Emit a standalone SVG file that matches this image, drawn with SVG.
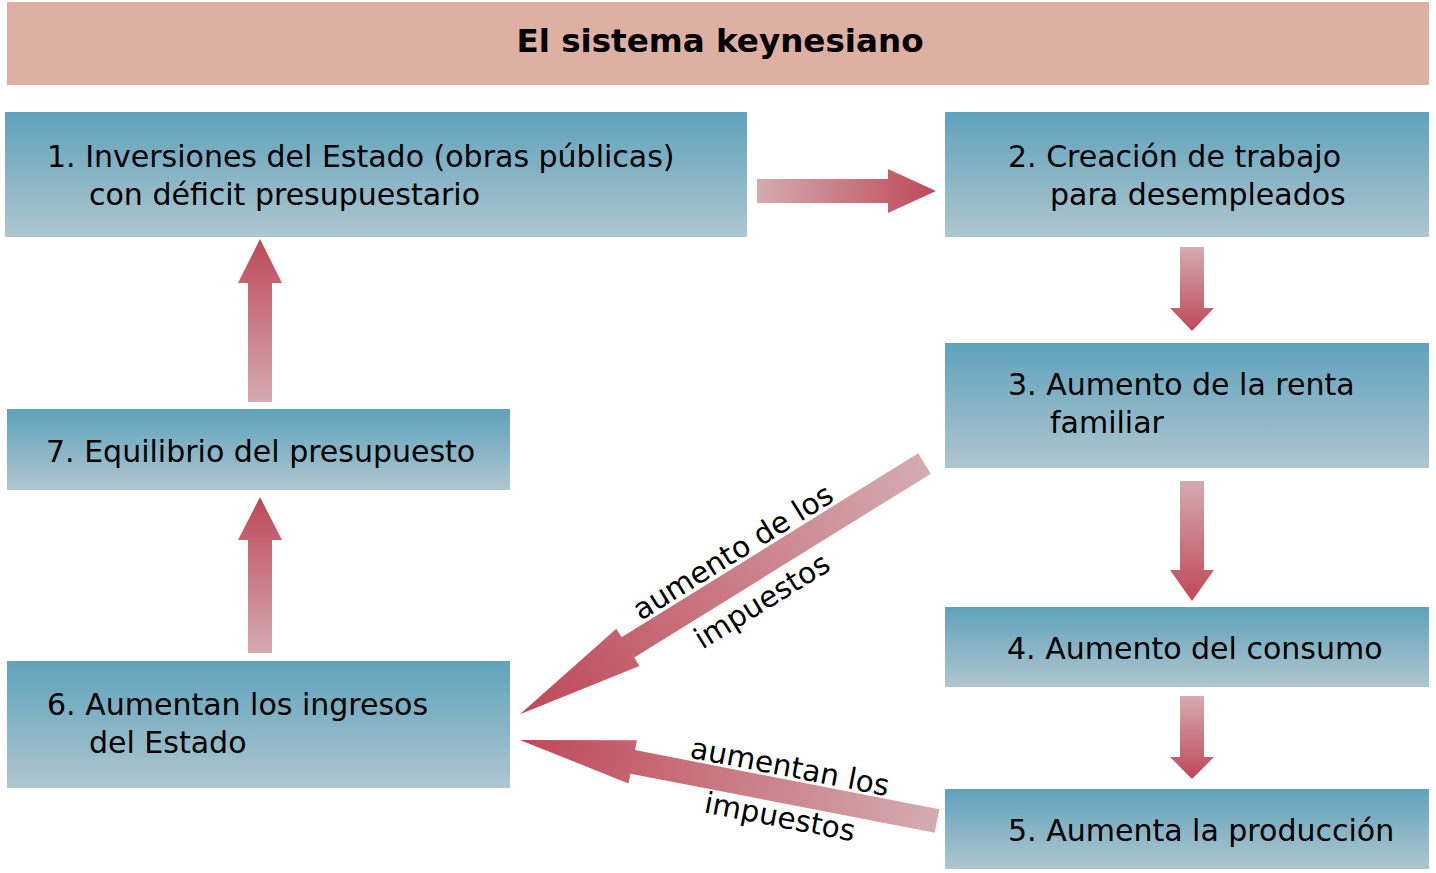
<svg xmlns="http://www.w3.org/2000/svg" width="1436" height="873" viewBox="0 0 1436 873">
<defs>
<linearGradient id="boxg" x1="0" y1="0" x2="0" y2="1">
<stop offset="0" stop-color="#5ea2bc"/>
<stop offset="1" stop-color="#afc6cf"/>
</linearGradient>
<linearGradient id="arrg" x1="0" y1="0" x2="1" y2="0">
<stop offset="0" stop-color="#d4abb0"/>
<stop offset="1" stop-color="#bf4858"/>
</linearGradient>
<style>
.box{fill:url(#boxg);}
.t{font-family:"DejaVu Sans","Liberation Sans",sans-serif;font-size:30px;fill:#000;}
.title{font-family:"DejaVu Sans","Liberation Sans",sans-serif;font-size:32.6px;font-weight:bold;fill:#000;}
.arr{fill:url(#arrg);}
.lbl{font-family:"DejaVu Sans","Liberation Sans",sans-serif;font-size:29.5px;fill:#000;text-anchor:middle;}
</style>
</defs>
<g id="title">
<rect x="7" y="2" width="1422" height="83" fill="#deafa3"/>
<text class="title" x="720" y="52" text-anchor="middle">El sistema keynesiano</text>
</g>
<g id="node1">
<rect class="box" x="5" y="112" width="742" height="125"/>
<text class="t" x="47" y="167">1. Inversiones del Estado (obras públicas)</text>
<text class="t" x="89" y="205">con déficit presupuestario</text>
</g>
<g id="node2">
<rect class="box" x="945" y="112" width="484" height="125"/>
<text class="t" x="1008" y="167">2. Creación de trabajo</text>
<text class="t" x="1050" y="205">para desempleados</text>
</g>
<g id="node3">
<rect class="box" x="945" y="343" width="484" height="125"/>
<text class="t" x="1008" y="395">3. Aumento de la renta</text>
<text class="t" x="1050" y="433">familiar</text>
</g>
<g id="node4">
<rect class="box" x="945" y="607" width="484" height="80"/>
<text class="t" x="1007" y="659">4. Aumento del consumo</text>
</g>
<g id="node5">
<rect class="box" x="945" y="789" width="484" height="80"/>
<text class="t" x="1008" y="841">5. Aumenta la producción</text>
</g>
<g id="node7">
<rect class="box" x="7" y="409" width="503" height="81"/>
<text class="t" x="46" y="462">7. Equilibrio del presupuesto</text>
</g>
<g id="node6">
<rect class="box" x="7" y="661" width="503" height="127"/>
<text class="t" x="47" y="715">6. Aumentan los ingresos</text>
<text class="t" x="89" y="753">del Estado</text>
</g>
<g id="connectors">
<!-- 1 -> 2 -->
<path class="arr" transform="translate(757,191)" d="M0,-12 H131 V-22 L179,0 L131,22 V12 H0 Z"/>
<!-- 2 -> 3 -->
<path class="arr" transform="translate(1192,247) rotate(90)" d="M0,-12 H61 V-22 L84,0 L61,22 V12 H0 Z"/>
<!-- 3 -> 4 -->
<path class="arr" transform="translate(1192,481) rotate(90)" d="M0,-12 H89 V-22 L120,0 L89,22 V12 H0 Z"/>
<!-- 4 -> 5 -->
<path class="arr" transform="translate(1192,696) rotate(90)" d="M0,-12 H61 V-22 L83,0 L61,22 V12 H0 Z"/>
<!-- 6 -> 7 -->
<path class="arr" transform="translate(260,653) rotate(-90)" d="M0,-12 H113 V-22 L156,0 L113,22 V12 H0 Z"/>
<!-- 7 -> 1 -->
<path class="arr" transform="translate(260,402) rotate(-90)" d="M0,-12 H119 V-22 L163,0 L119,22 V12 H0 Z"/>
<!-- 3 -> 6 -->
<path class="arr" transform="translate(924.5,463.5) rotate(148.2)" d="M0,-12 H349 V-22 L476,0 L349,22 V12 H0 Z"/>
<!-- 5 -> 6 -->
<path class="arr" transform="translate(937,821) rotate(191)" d="M0,-12 H310 V-22 L425,0 L310,22 V12 H0 Z"/>
<text class="lbl" transform="translate(733,552) rotate(-31.8)" y="10">aumento de los</text>
<text class="lbl" transform="translate(762,601) rotate(-31.8)" y="10">impuestos</text>
<text class="lbl" transform="translate(790,767) rotate(11)" y="10">aumentan los</text>
<text class="lbl" transform="translate(780,817) rotate(11)" y="10">impuestos</text>
</g>
</svg>
